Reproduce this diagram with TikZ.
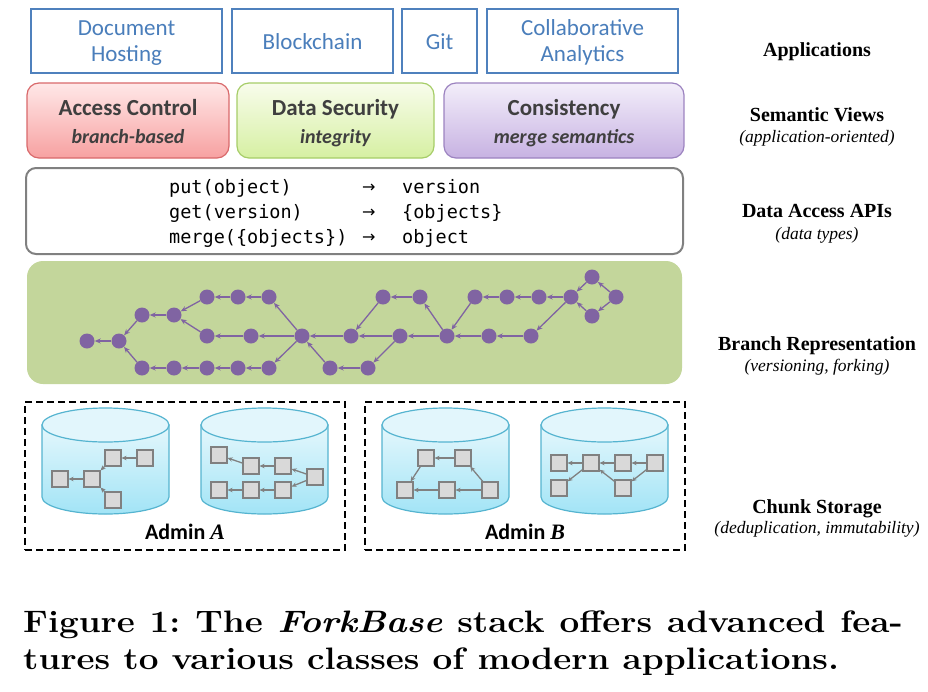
\documentclass[tikz,border=0pt]{standalone}
\usepackage{fontspec}
\usetikzlibrary{arrows.meta}
\newfontfamily\calibri{Carlito}
\newfontfamily\timesf{Liberation Serif}
\newfontfamily\monof{DejaVu Sans Mono}
\newfontfamily\arrowf{DejaVu Sans}
\definecolor{appblue}{HTML}{4F81BD}
\definecolor{apptext}{HTML}{4A7EBB}
\definecolor{svtext}{HTML}{3F3F3F}
\definecolor{redtop}{HTML}{FFE8E8}
\definecolor{redbot}{HTML}{F7A1A1}
\definecolor{redline}{HTML}{D9696B}
\definecolor{grntop}{HTML}{F8FCEC}
\definecolor{grnbot}{HTML}{D6F0A2}
\definecolor{grnline}{HTML}{A6CD68}
\definecolor{purtop}{HTML}{F3EEFA}
\definecolor{purbot}{HTML}{C7B2E2}
\definecolor{purline}{HTML}{9C83C0}
\definecolor{apiline}{HTML}{808080}
\definecolor{branchbg}{HTML}{C3D69B}
\definecolor{vnode}{HTML}{8064A2}
\definecolor{cyltop}{HTML}{E4F7FC}
\definecolor{cylbot}{HTML}{A2E4F6}
\definecolor{cyllid}{HTML}{E2F6FC}
\definecolor{cylline}{HTML}{55B4D0}
\definecolor{chunkfill}{HTML}{D9D9D9}
\definecolor{chunkline}{HTML}{808080}
\tikzset{
  appbox/.style={draw=appblue, line width=1.6pt, fill=white, minimum height=64pt, inner sep=0pt},
  apptxt/.style={anchor=base, inner sep=0pt, font=\calibri\fontsize{23}{28}\selectfont, text=apptext},
  svbox/.style={rounded corners=12pt, line width=1.2pt, minimum height=75pt, inner sep=0pt},
  svtitle/.style={anchor=base, inner sep=0pt, text=svtext, font=\calibri\bfseries\fontsize{23}{28}\selectfont},
  svsub/.style={anchor=base, inner sep=0pt, text=svtext, font=\calibri\bfseries\itshape\fontsize{20}{24}\selectfont},
  apitxt/.style={anchor=base west, inner sep=0pt, font=\monof\fontsize{18.5}{22}\selectfont},
  apiarr/.style={anchor=base west, inner sep=0pt, font=\arrowf\fontsize{16}{22}\selectfont},
  layer/.style={anchor=base, inner sep=0pt, font=\timesf\bfseries\fontsize{20}{24}\selectfont},
  layersub/.style={anchor=base, inner sep=0pt, font=\timesf\itshape\fontsize{17.5}{21}\selectfont},
  vn/.style={circle, fill=vnode, minimum size=15pt, inner sep=0pt},
  ve/.style={draw=vnode, line width=1.3pt, -{Stealth[length=6pt,width=5pt]}},
  ch/.style={rectangle, fill=chunkfill, draw=chunkline, line width=1.2pt, minimum size=16pt, inner sep=0pt},
  ce/.style={draw=chunkline, line width=1.3pt, -{Stealth[length=5pt,width=4.5pt]}},
  adminbox/.style={draw=black, line width=2pt, dash pattern=on 7pt off 4pt, minimum width=320pt, minimum height=148pt, inner sep=0pt},
  adminlbl/.style={anchor=base, inner sep=0pt, font=\calibri\bfseries\fontsize{22}{26}\selectfont},
}
\begin{document}
\begin{tikzpicture}[x=1pt,y=-1pt]
\useasboundingbox (0,0) rectangle (928,691);
% Applications
\node[appbox, minimum width=191pt] (doc) at (126.5,41) {};
\node[appbox, minimum width=161pt] (bc) at (312.5,41) {};
\node[appbox, minimum width=75pt] (git) at (439.5,41) {};
\node[appbox, minimum width=191pt] (ca) at (582.5,41) {};
\node[apptxt] (doct1) at (126.5,35) {Document};
\node[apptxt] (doct2) at (126.5,61) {Hosting};
\node[apptxt] (bct) at (312.5,49) {Blockchain};
\node[apptxt] (gitt) at (439.5,49) {Git};
\node[apptxt] (cat1) at (582.5,35) {Collaborative};
\node[apptxt] (cat2) at (582.5,61) {Analytics};
% Semantic views
\node[svbox, draw=redline, top color=redtop, bottom color=redbot, minimum width=202pt] (acc) at (128,120.5) {};
\node[svbox, draw=grnline, top color=grntop, bottom color=grnbot, minimum width=197pt] (sec) at (335.5,120.5) {};
\node[svbox, draw=purline, top color=purtop, bottom color=purbot, minimum width=240pt] (cons) at (564,120.5) {};
\node[svtitle] (acct) at (128,115) {Access Control};
\node[svsub] (accs) at (128,143) {branch-based};
\node[svtitle] (sect) at (335.5,115) {Data Security};
\node[svsub] (secs) at (335.5,143) {integrity};
\node[svtitle] (const) at (564,115) {Consistency};
\node[svsub] (conss) at (564,143) {merge semantics};
% API
\node[draw=apiline, line width=2pt, rounded corners=10pt, minimum width=657pt, minimum height=86pt] (api) at (354.5,211) {};
\node[apitxt] (put) at (169,193) {put(object)};
\node[apitxt] (get) at (169,218) {get(version)};
\node[apitxt] (mrg) at (169,243) {merge(\{objects\})};
\node[apiarr] (ar1) at (362,192) {→};
\node[apiarr] (ar2) at (362,217) {→};
\node[apiarr] (ar3) at (362,242) {→};
\node[apitxt] (r1) at (402,193) {version};
\node[apitxt] (r2) at (402,218) {\{objects\}};
\node[apitxt] (r3) at (402,243) {object};
% Branch representation
\node[fill=branchbg, rounded corners=16pt, minimum width=655pt, minimum height=123pt] (br) at (354.5,322.5) {};
\foreach \n/\x/\y in {n1/87/341, n2/119/341, u1/142/315, u2/174/315,
  t1/207/297, t2/238/297, t3/269/297,
  m1/207/336, m2/251/336, m3/302/336, m4/351/336,
  b1/142/368, b2/174/368, b3/207/368, b4/238/368, b5/269/368, b6/330/368, b7/368/368,
  p1/383/297, p2/420/297, m5/400/336, m6/447/336, m7/489/336, m8/531/336,
  q1/475/297, q2/507/297, q3/539/297, q4/571/297,
  d1/592/277, d2/616/297, d3/592/316}
  {\node[vn] (\n) at (\x,\y) {};}
\foreach \a/\b in {n2/n1, u1/n2, b1/n2, u2/u1, t1/u2, m1/u2, t2/t1, t3/t2,
  m2/m1, m3/m2, m3/t3, m3/b5, b2/b1, b3/b2, b4/b3, b5/b4, b6/m3, b7/b6,
  m4/m3, p1/m4, m5/m4, m5/b7, p2/p1, m6/m5, m6/p2, q1/m6, m7/m6, m8/m7,
  q2/q1, q3/q2, q4/q3, q4/m8, d1/q4, d3/q4, d2/d1, d2/d3}
  {\draw[ve] (\a) -- (\b);}
% Chunk storage
\node[adminbox] (adA) at (185,476) {};
\node[adminbox] (adB) at (525,476) {};
\foreach \L/\R in {42/169, 201/328, 382/509, 541/668}{
  \pgfmathsetmacro\cC{(\L+\R)/2}
  \pgfmathsetmacro\cK{0.5523*(\R-\L)/2}
  \pgfmathsetmacro\cX{(\R-\L)/2}
  \shade[top color=cyltop, bottom color=cylbot, draw=cylline, line width=1.2pt]
    (\L,425) -- (\L,497) .. controls (\L,506.4) and (\cC-\cK,514) .. (\cC,514)
    .. controls (\cC+\cK,514) and (\R,506.4) .. (\R,497) -- (\R,425) -- cycle;
  \filldraw[fill=cyllid, draw=cylline, line width=1.2pt] (\cC,425) ellipse [x radius=\cX, y radius=17];
}
\foreach \n/\x/\y in {a1/60/479, a2/92/479, a3/113/458, a4/145/458, a5/113/500,
  c1/219/455, c2/251/466, c3/283/466, c4/315/477, c5/219/490, c6/251/490, c7/283/490,
  e1/426/458, e2/463/458, e3/405/490, e4/447/490, e5/490/490,
  f1/559/463, f2/591/463, f3/623/463, f4/655/463, f5/559/488, f6/623/488}
  {\node[ch] (\n) at (\x,\y) {};}
\foreach \a/\b in {a2/a1, a3/a2, a4/a3, a5/a2,
  c2/c1, c3/c2, c4/c3, c4/c7, c7/c6, c6/c5,
  e2/e1, e1/e3, e4/e3, e5/e4, e5/e2,
  f2/f1, f2/f5, f3/f2, f4/f3, f4/f6, f6/f2}
  {\draw[ce] (\a) -- (\b);}
\node[adminlbl] (lblA) at (185,539) {Admin {\timesf\bfseries\itshape A}};
\node[adminlbl] (lblB) at (525,539) {Admin {\timesf\bfseries\itshape B}};
% Layer labels
\node[layer] (l1) at (817,56) {Applications};
\node[layer] (l2) at (817,121) {Semantic Views};
\node[layersub] (l2s) at (817,142) {(application-oriented)};
\node[layer] (l3) at (817,217) {Data Access APIs};
\node[layersub] (l3s) at (817,239) {(data types)};
\node[layer] (l4) at (817,350) {Branch Representation};
\node[layersub] (l4s) at (817,371) {(versioning, forking)};
\node[layer] (l5) at (817,513) {Chunk Storage};
\node[layersub] (l5s) at (817,533) {(deduplication, immutability)};
% Caption
\node[anchor=base west, inner sep=0pt, xscale=1.132, transform shape, text width=777pt, align=justify,
  font=\bfseries\fontsize{31}{37}\selectfont] (cap) at (23,632)
  {\frenchspacing Figure 1: The \textit{ForkBase} stack offers advanced fea-\linebreak tures to various classes of modern applications.};
\end{tikzpicture}
\end{document}
